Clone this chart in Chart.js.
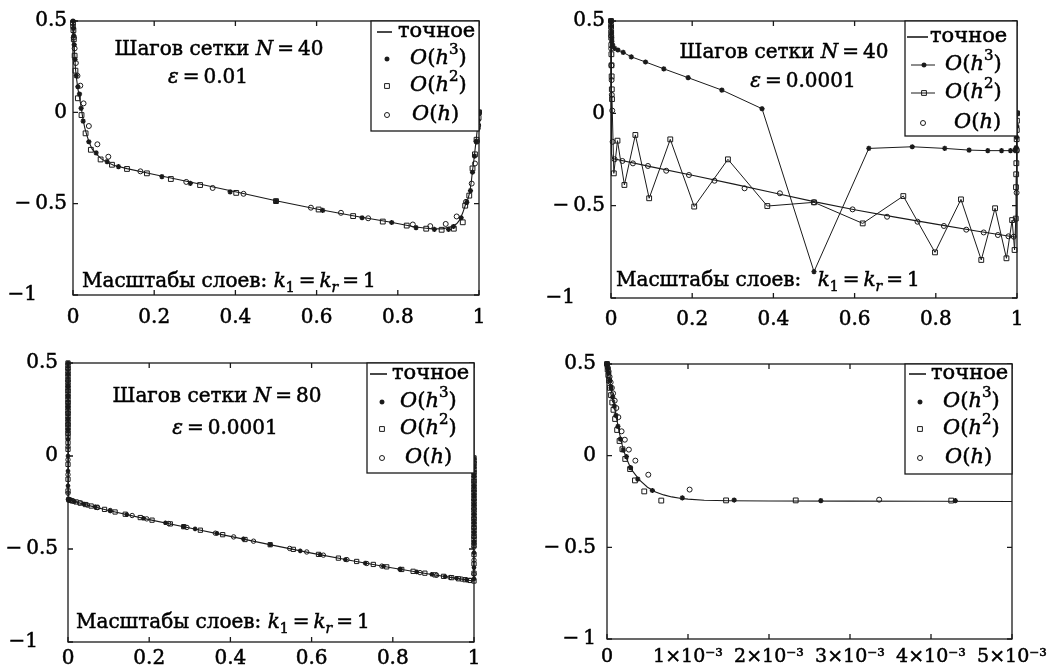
<!DOCTYPE html>
<html>
<head>
<meta charset="utf-8">
<script src="https://cdn.jsdelivr.net/npm/chart.js@4.4.1/dist/chart.umd.min.js"></script>
<style>
  html, body { margin: 0; padding: 0; background: #fff; }
  #wrap { position: relative; width: 1058px; height: 670px; overflow: hidden; }
  canvas { position: absolute; }
</style>
</head>
<body>
<div id="wrap">
  <canvas id="p1" width="529" height="335" style="left:0;top:0"></canvas>
  <canvas id="p2" width="529" height="335" style="left:529px;top:0"></canvas>
  <canvas id="p3" width="529" height="335" style="left:0;top:335px"></canvas>
  <canvas id="p4" width="529" height="335" style="left:529px;top:335px"></canvas>
</div>
<script>
// ============================================================
// Boundary-layer solutions: exact vs O(h^3), O(h^2), O(h) schemes
// four panels
// ============================================================

// ----- axis ticks -----
const yTicks = [-1, -0.5, 0, 0.5];
const yLabelsPad = ['−1\u2003\u2002', '−\u20090.5', '0', '0.5'];
const yLabelsPadC = ['−1\u2003', '−\u20090.5', '0', '0.5'];
const yLabelsD = ['−\u20091', '−\u20090.5', '0', '0.5'];
const xTicks = [0, 0.2, 0.4, 0.6, 0.8, 1];
const xLabels = ['0', '0.2', '0.4', '0.6', '0.8', '1'];
// panel 4 x values are in units of 1e-3
const xTicksD = [0, 1, 2, 3, 4, 5];
const xLabelsD = ['0', '1×10⁻³', '2×10⁻³', '3×10⁻³', '4×10⁻³', '5×10⁻³'];

// ----- panel 1: N = 40, eps = 0.01 -----
const exactA = [[0,0.5],[0.002,0.41],[0.004,0.32],[0.006,0.24],[0.009,0.18],[0.012,0.13],[0.016,0.08],
  [0.02,0.03],[0.024,-0.03],[0.029,-0.085],[0.034,-0.125],[0.04,-0.165],[0.047,-0.2],[0.057,-0.228],
  [0.07,-0.255],[0.085,-0.274],[0.1,-0.29],[0.133,-0.308],[0.2,-0.34],[0.3,-0.387],[0.4,-0.435],
  [0.5,-0.484],[0.6,-0.529],[0.7,-0.57],[0.78,-0.6],[0.84,-0.626],[0.88,-0.637],[0.91,-0.638],
  [0.93,-0.627],[0.945,-0.61],[0.952,-0.59],[0.96,-0.55],[0.966,-0.51],[0.972,-0.48],[0.977,-0.44],
  [0.981,-0.38],[0.984,-0.32],[0.988,-0.25],[0.992,-0.17],[0.995,-0.11],[0.998,-0.045],[1,0]];
const starsA = [[0,0.5],[0.001,0.46],[0.002,0.42],[0.003,0.37],[0.005,0.29],[0.008,0.2],[0.012,0.14],
  [0.016,0.1],[0.02,0.022],[0.025,-0.048],[0.039,-0.161],[0.057,-0.222],[0.084,-0.27],[0.112,-0.297],
  [0.219,-0.352],[0.289,-0.389],[0.387,-0.435],[0.5,-0.486],[0.615,-0.537],[0.712,-0.577],[0.785,-0.603],
  [0.845,-0.631],[0.89,-0.641],[0.925,-0.641],[0.937,-0.625],[0.956,-0.577],[0.97,-0.493],[0.979,-0.429],
  [0.984,-0.328],[0.989,-0.24],[0.993,-0.16],[0.996,-0.09],[0.998,-0.045],[1,0]];
const squaresA = [[0,0.49],[0.001,0.45],[0.002,0.4],[0.004,0.31],[0.006,0.228],[0.012,0.077],
  [0.021,-0.015],[0.031,-0.115],[0.044,-0.205],[0.068,-0.258],[0.096,-0.287],[0.133,-0.31],[0.182,-0.334],
  [0.241,-0.365],[0.313,-0.398],[0.402,-0.441],[0.5,-0.486],[0.605,-0.532],[0.69,-0.568],[0.763,-0.598],
  [0.822,-0.62],[0.87,-0.637],[0.908,-0.643],[0.938,-0.637],[0.96,-0.602],[0.966,-0.511],[0.976,-0.456],
  [0.984,-0.307],[0.99,-0.23],[0.994,-0.15],[0.997,-0.08],[0.999,-0.03],[1,0]];
const circlesA = [[0,0.47],[0.002,0.41],[0.004,0.35],[0.007,0.27],[0.011,0.2],[0.018,0.146],
  [0.026,0.049],[0.039,-0.075],[0.06,-0.175],[0.087,-0.243],[0.166,-0.323],[0.279,-0.381],[0.344,-0.414],
  [0.42,-0.446],[0.586,-0.522],[0.66,-0.55],[0.727,-0.58],[0.837,-0.614],[0.88,-0.623],[0.918,-0.611],
  [0.945,-0.57],[0.968,-0.49],[0.982,-0.39],[0.99,-0.28],[0.995,-0.16],[0.998,-0.07],[1,0]];

// ----- panel 2: N = 40, eps = 0.0001 -----
const exactB = [[0,0.5],[0.0004,0.25],[0.0008,0],[0.0012,-0.15],[0.002,-0.22],[0.004,-0.245],
  [0.1,-0.29],[0.2,-0.335],[0.3,-0.382],[0.4,-0.43],[0.5,-0.478],[0.6,-0.522],[0.7,-0.562],
  [0.8,-0.6],[0.9,-0.637],[0.99,-0.668],[0.997,-0.67],[0.9985,-0.55],[0.9992,-0.35],[0.9997,-0.15],[1,0]];
const starsB = [[0,0.5],[0.0005,0.47],[0.001,0.44],[0.0015,0.41],[0.002,0.39],[0.004,0.37],
  [0.009,0.352],[0.017,0.343],[0.03,0.33],[0.05,0.306],[0.085,0.278],[0.13,0.241],[0.19,0.193],
  [0.273,0.126],[0.372,0.025],[0.5,-0.857],[0.635,-0.19],[0.742,-0.181],[0.822,-0.19],[0.882,-0.199],
  [0.928,-0.202],[0.962,-0.202],[0.984,-0.202],[0.995,-0.199],[0.998,-0.185],[0.999,-0.13],
  [0.9995,-0.07],[1,0]];
const squaresB = [[0,0.5],[0.0002,0.47],[0.0004,0.44],[0.0006,0.41],[0.0008,0.37],[0.001,0.32],
  [0.0013,0.26],[0.0016,0.2],[0.002,0.13],[0.0025,0.077],[0.007,-0.325],[0.016,-0.148],[0.033,-0.388],
  [0.06,-0.117],[0.094,-0.46],[0.146,-0.141],[0.205,-0.505],[0.288,-0.249],[0.385,-0.502],[0.5,-0.482],
  [0.62,-0.596],[0.72,-0.448],[0.798,-0.753],[0.862,-0.466],[0.912,-0.794],[0.946,-0.514],[0.974,-0.785],
  [0.988,-0.578],[0.994,-0.74],[0.997,-0.57],[0.9975,-0.4],[0.998,-0.33],[0.9984,-0.27],[0.9988,-0.2],
  [0.9992,-0.14],[0.9995,-0.09],[0.9998,-0.04],[1,0]];
const circlesB = [[0,0.5],[0.0003,0.42],[0.0006,0.35],[0.001,0.26],[0.0015,0.18],[0.002,0.1],
  [0.003,0.015],[0.004,-0.154],[0.009,-0.249],[0.028,-0.258],[0.054,-0.271],[0.091,-0.285],
  [0.136,-0.311],[0.192,-0.334],[0.255,-0.365],[0.329,-0.406],[0.416,-0.433],[0.5,-0.482],
  [0.595,-0.52],[0.68,-0.56],[0.755,-0.587],[0.82,-0.61],[0.875,-0.63],[0.918,-0.645],[0.953,-0.659],
  [0.979,-0.666],[0.992,-0.668],[0.999,-0.43],[0.9995,-0.2],[1,0]];

// ----- panel 3: N = 80, eps = 0.0001 -----
const exactC = [[0,0.5],[0.0003,0.2],[0.0008,-0.1],[0.0015,-0.2],[0.003,-0.235],[0.04,-0.26],
  [0.1,-0.293],[0.2,-0.342],[0.3,-0.387],[0.4,-0.432],[0.5,-0.478],[0.6,-0.522],[0.7,-0.563],
  [0.8,-0.602],[0.9,-0.638],[0.97,-0.662],[0.998,-0.672],[0.9993,-0.4],[0.9998,-0.15],[1,-0.01]];
// boundary-layer columns (x = 0 and x = 1)
const squaresCLeft = [0.5,0.487,0.472,0.456,0.441,0.427,0.41,0.396,0.38,0.366,0.35,0.333,0.319,0.304,
  0.288,0.273,0.259,0.243,0.229,0.214,0.198,0.183,0.168,0.154,0.138,0.122,0.1,0.072,0.036,-0.045,-0.125,-0.188];
const starsCLeft = [0.5,0.44,0.375,0.32,0.262,0.2,0.142,0.09,0,-0.081,-0.16,-0.233];
const circlesCLeft = [0.47,0.405,0.35,0.29,0.232,0.17,0.118,0.05,-0.02,-0.1,-0.2];
const squaresCRight = [-0.01,-0.026,-0.04,-0.056,-0.072,-0.088,-0.103,-0.118,-0.135,-0.15,-0.166,-0.181,
  -0.197,-0.212,-0.228,-0.244,-0.259,-0.275,-0.29,-0.306,-0.322,-0.338,-0.353,-0.368,-0.385,-0.4,-0.416,
  -0.432,-0.448,-0.465,-0.48,-0.53,-0.58,-0.63,-0.672];
const starsCRight = [-0.012,-0.06,-0.11,-0.162,-0.21,-0.26,-0.312,-0.36,-0.41,-0.462,-0.52,-0.6,-0.66];
const circlesCRight = [-0.035,-0.085,-0.135,-0.186,-0.235,-0.285,-0.336,-0.385,-0.435,-0.49,-0.56,-0.635];
// outer region
const squaresC = [[0.002,-0.235],[0.005,-0.238],[0.01,-0.241],[0.02,-0.247],[0.03,-0.253],[0.043,-0.261],
  [0.057,-0.269],[0.071,-0.276],[0.09,-0.287],[0.116,-0.301],[0.141,-0.313],[0.178,-0.331],[0.207,-0.345],
  [0.252,-0.365],[0.285,-0.38],[0.326,-0.399],[0.381,-0.423],[0.436,-0.449],[0.498,-0.477],[0.555,-0.502],
  [0.617,-0.529],[0.666,-0.549],[0.711,-0.567],[0.752,-0.583],[0.785,-0.596],[0.822,-0.61],[0.85,-0.62],
  [0.879,-0.63],[0.904,-0.639],[0.925,-0.647],[0.945,-0.654],[0.962,-0.66],[0.978,-0.665],[0.99,-0.669]];
const starsC = [[0.004,-0.236],[0.016,-0.245],[0.039,-0.258],[0.067,-0.273],[0.104,-0.295],[0.145,-0.315],
  [0.186,-0.335],[0.24,-0.359],[0.285,-0.38],[0.313,-0.392],[0.367,-0.416],[0.432,-0.445],[0.498,-0.477],
  [0.572,-0.51],[0.621,-0.531],[0.683,-0.557],[0.732,-0.576],[0.777,-0.593],[0.818,-0.609],[0.859,-0.623],
  [0.896,-0.636],[0.929,-0.648],[0.957,-0.657],[0.982,-0.666]];
const circlesC = [[0.007,-0.239],[0.012,-0.243],[0.029,-0.252],[0.048,-0.264],[0.073,-0.277],[0.104,-0.293],
  [0.158,-0.32],[0.194,-0.338],[0.248,-0.363],[0.293,-0.384],[0.363,-0.415],[0.408,-0.435],[0.457,-0.458],
  [0.546,-0.497],[0.588,-0.516],[0.629,-0.533],[0.687,-0.557],[0.736,-0.578],[0.773,-0.592],[0.818,-0.609],
  [0.867,-0.627],[0.908,-0.641],[0.941,-0.653],[0.97,-0.662],[0.99,-0.669]];

// ----- panel 4: zoom of the left layer, x in 1e-3 -----
const exactD = [[0,0.5],[0.03,0.42],[0.06,0.345],[0.1,0.245],[0.15,0.13],[0.2,0.035],[0.25,-0.025],
  [0.3,-0.075],[0.4,-0.132],[0.5,-0.172],[0.6,-0.198],[0.7,-0.214],[0.8,-0.225],[0.9,-0.232],[1,-0.237],
  [1.2,-0.243],[1.5,-0.246],[2,-0.247],[3,-0.248],[4,-0.249],[5,-0.25]];
const starsD = [[0,0.5],[0.01,0.475],[0.02,0.45],[0.035,0.41],[0.05,0.37],[0.07,0.32],[0.09,0.27],
  [0.11,0.22],[0.135,0.16],[0.165,0.09],[0.2,0.03],[0.24,-0.005],[0.29,-0.065],[0.38,-0.128],
  [0.56,-0.19],[0.93,-0.23],[1.57,-0.242],[2.64,-0.245],[4.3,-0.245]];
const squaresD = [[0,0.5],[0.008,0.47],[0.016,0.44],[0.026,0.41],[0.037,0.37],[0.05,0.33],[0.065,0.29],
  [0.08,0.25],[0.1,0.2],[0.125,0.14],[0.155,0.08],[0.19,0.035],[0.225,-0.018],[0.285,-0.073],
  [0.345,-0.135],[0.46,-0.195],[0.67,-0.245],[1.47,-0.244],[2.33,-0.244],[4.25,-0.245]];
const circlesD = [[0,0.5],[0.01,0.48],[0.02,0.46],[0.032,0.43],[0.045,0.4],[0.06,0.37],[0.075,0.34],
  [0.095,0.3],[0.115,0.26],[0.14,0.21],[0.18,0.133],[0.22,0.087],[0.27,0.033],[0.35,-0.027],
  [0.51,-0.104],[1.02,-0.185],[3.36,-0.24]];

// ============================================================
const INK = '#1a1a1a';
const FONT = "'DejaVu Serif', serif";
const HEAVY = 0.5;   // thin outline on text to mimic the heavier print

const pts = arr => arr.map(([x, y]) => ({ x, y }));
const column = (x, ys) => ys.map(y => ({ x, y }));

function exactSet(data) {
  return { data, showLine: true, borderColor: INK, borderWidth: 1.1, pointRadius: 0,
    tension: 0, clip: false };
}
function markSet(data, style, r, line) {
  return { data, showLine: !!line, borderColor: INK, borderWidth: 1, tension: 0,
    pointStyle: style, pointRadius: r, pointBorderWidth: style === 'star' ? 1.4 : 1, pointBorderColor: INK,
    pointBackgroundColor: 'rgba(255,255,255,0)', backgroundColor: 'rgba(255,255,255,0)', clip: false };
}

// rich text: parts are [text, style] with style '', 'i', 'sub', 'isub', 'sup'
function partFont(st, size) {
  const small = st === 'sub' || st === 'isub' || st === 'sup';
  const ital = st === 'i' || st === 'isub';
  return (ital ? 'italic ' : '') + Math.round(small ? size * 0.7 : size) + 'px ' + FONT;
}
function richWidth(ctx, parts, size) {
  let w = 0;
  for (const [t, st] of parts) { ctx.font = partFont(st, size); w += ctx.measureText(t).width; }
  return w;
}
function drawRich(ctx, parts, x, y, size, align) {
  let cx = align === 'center' ? x - richWidth(ctx, parts, size) / 2 : x;
  ctx.strokeStyle = '#000';
  ctx.lineWidth = HEAVY;
  for (const [t, st] of parts) {
    ctx.font = partFont(st, size);
    const dy = (st === 'sub' || st === 'isub') ? size * 0.25 : st === 'sup' ? -size * 0.42 : 0;
    ctx.fillText(t, cx, y + dy);
    ctx.strokeText(t, cx, y + dy);
    cx += ctx.measureText(t).width;
  }
}
function drawMark(ctx, kind, x, y, r) {
  ctx.beginPath();
  if (kind === 'circle') ctx.arc(x, y, r, 0, Math.PI * 2);
  else if (kind === 'rect') { const s = r * Math.SQRT1_2; ctx.rect(x - s, y - s, 2 * s, 2 * s); }
  else {
    for (let k = 0; k < 4; k++) {
      const a = k * Math.PI / 4;
      ctx.moveTo(x + Math.cos(a) * r, y + Math.sin(a) * r);
      ctx.lineTo(x - Math.cos(a) * r, y - Math.sin(a) * r);
    }
  }
  ctx.stroke();
}

const txtN = n => [['Шагов сетки ', ''], ['N', 'i'], ['\u2009=\u2009' + n, '']];
const txtEps = e => [['ε', 'i'], ['\u2009=\u2009' + e, '']];
const txtK = gap => [['Масштабы слоев:' + gap, ''], ['k', 'i'], ['1', 'sub'], ['\u2009=\u2009', ''],
  ['k', 'i'], ['r', 'isub'], ['\u2009=\u20091', '']];
const keyO = p => p ? [['O', 'i'], ['(', ''], ['h', 'i'], [p, 'sup'], [')', '']] : [['O', 'i'], ['(', ''], ['h', 'i'], [')', '']];

const PANELS = {
  p1: {
    datasets: [exactSet(pts(exactA)), markSet(pts(starsA), 'star', 2.6),
      markSet(pts(squaresA), 'rect', 3.4), markSet(pts(circlesA), 'circle', 2.5)],
    xMin: 0, xMax: 1, xT: xTicks, xL: xLabels, yL: yLabelsPad, xFont: null,
    yWidth: 73, xHeight: 40, top: 21, right: 50, xPad: 11, yPad: 6,
    notes: [
      { x: 219, y: 55, align: 'center', size: 20, parts: txtN('40') },
      { x: 208, y: 83, align: 'center', size: 20, parts: txtEps('0.01') },
      { x: 82, y: 287, align: 'left', size: 20, parts: txtK(' ') }
    ],
    key: { left: 371, bottom: 131, size: 21, rows: [
      { y: 32, kind: 'line', l0: 377, l1: 392, tx: 398, label: [['точное', '']] },
      { y: 59, kind: 'star', mx: 387, tx: 410, label: keyO('3') },
      { y: 86, kind: 'rect', mx: 387, tx: 410, label: keyO('2') },
      { y: 115, kind: 'circle', mx: 387, tx: 412, label: keyO('') }
    ] }
  },
  p2: {
    datasets: [exactSet(pts(exactB)), markSet(pts(starsB), 'star', 2.6, true),
      markSet(pts(squaresB), 'rect', 3.4, true), markSet(pts(circlesB), 'circle', 2.5)],
    xMin: 0, xMax: 1, xT: xTicks, xL: xLabels, yL: yLabelsPad, xFont: null,
    yWidth: 82, xHeight: 37, top: 21, right: 41, xPad: 10, yPad: 6,
    notes: [
      { x: 255, y: 58, align: 'center', size: 20, parts: txtN('40') },
      { x: 274, y: 87, align: 'center', size: 20, parts: txtEps('0.0001') },
      { x: 87, y: 286, align: 'left', size: 20, parts: txtK(' \u2002') }
    ],
    key: { left: 376, bottom: 136, size: 21, rows: [
      { y: 37, kind: 'line', l0: 378, l1: 399, tx: 401, label: [['точное', '']] },
      { y: 65, kind: 'star', l0: 382, l1: 406, mx: 395, tx: 416, label: keyO('3') },
      { y: 93, kind: 'rect', l0: 382, l1: 406, mx: 395, tx: 416, label: keyO('2') },
      { y: 123, kind: 'circle', mx: 394, tx: 425, label: keyO('') }
    ] }
  },
  p3: {
    datasets: [exactSet(pts(exactC)),
      markSet(column(0, starsCLeft).concat(pts(starsC), column(1, starsCRight)), 'star', 2.3),
      markSet(column(0, squaresCLeft).concat(pts(squaresC), column(1, squaresCRight)), 'rect', 3),
      markSet(column(0, circlesCLeft).concat(pts(circlesC), column(1, circlesCRight)), 'circle', 2.2)],
    xMin: 0, xMax: 1, xT: xTicks, xL: xLabels, yL: yLabelsPadC, xFont: null,
    yWidth: 68, xHeight: 28, top: 28, right: 55, xPad: 5, yPad: 10,
    notes: [
      { x: 217, y: 67, align: 'center', size: 20, parts: txtN('80') },
      { x: 225, y: 99, align: 'center', size: 20, parts: txtEps('0.0001') },
      { x: 76, y: 293, align: 'left', size: 20, parts: txtK(' ') }
    ],
    key: { left: 367, bottom: 138, size: 21, rows: [
      { y: 39, kind: 'line', l0: 370, l1: 387, tx: 392, label: [['точное', '']] },
      { y: 67, kind: 'star', mx: 382, tx: 400, label: keyO('3') },
      { y: 94, kind: 'rect', mx: 382, tx: 400, label: keyO('2') },
      { y: 123, kind: 'circle', mx: 382, tx: 405, label: keyO('') }
    ] }
  },
  p4: {
    datasets: [exactSet(pts(exactD)), markSet(pts(starsD), 'star', 2.6),
      markSet(pts(squaresD), 'rect', 3.4), markSet(pts(circlesD), 'circle', 2.5)],
    xMin: 0, xMax: 5, xT: xTicksD, xL: xLabelsD, yL: yLabelsD,
    xFont: { family: FONT, size: 19 },
    yWidth: 78, xHeight: 31, top: 29, right: 46, xPad: 7, yPad: 11,
    notes: [],
    key: { left: 376, bottom: 139, size: 21, rows: [
      { y: 39, kind: 'line', l0: 380, l1: 397, tx: 402, label: [['точное', '']] },
      { y: 67, kind: 'star', mx: 391, tx: 414, label: keyO('3') },
      { y: 94, kind: 'rect', mx: 391, tx: 414, label: keyO('2') },
      { y: 123, kind: 'circle', mx: 391, tx: 416, label: keyO('') }
    ] }
  }
};

// box with inward ticks on all four sides
const framePlugin = {
  id: 'frame',
  afterDraw(chart) {
    const { ctx, chartArea: a, scales: { x, y } } = chart;
    ctx.save();
    ctx.strokeStyle = INK;
    ctx.lineWidth = 1.3;
    ctx.strokeRect(a.left, a.top, a.right - a.left, a.bottom - a.top);
    ctx.beginPath();
    x.ticks.forEach(t => {
      const px = x.getPixelForValue(t.value);
      ctx.moveTo(px, a.bottom); ctx.lineTo(px, a.bottom - 5);
      ctx.moveTo(px, a.top); ctx.lineTo(px, a.top + 5);
    });
    y.ticks.forEach(t => {
      const py = y.getPixelForValue(t.value);
      ctx.moveTo(a.left, py); ctx.lineTo(a.left + 5, py);
      ctx.moveTo(a.right, py); ctx.lineTo(a.right - 5, py);
    });
    ctx.stroke();
    ctx.restore();
  }
};

const notesPlugin = {
  id: 'notes',
  afterDraw(chart) {
    const P = PANELS[chart.canvas.id];
    const ctx = chart.ctx;
    ctx.save();
    ctx.fillStyle = '#000';
    ctx.textBaseline = 'alphabetic';
    ctx.textAlign = 'left';
    P.notes.forEach(n => drawRich(ctx, n.parts, n.x, n.y, n.size, n.align));
    ctx.restore();
  }
};

const keyPlugin = {
  id: 'keybox',
  afterDraw(chart) {
    const K = PANELS[chart.canvas.id].key;
    const { ctx, chartArea: a } = chart;
    ctx.save();
    ctx.fillStyle = '#fff';
    ctx.fillRect(K.left, a.top, a.right - K.left, K.bottom - a.top);
    ctx.strokeStyle = INK;
    ctx.lineWidth = 1.3;
    ctx.strokeRect(K.left, a.top, a.right - K.left, K.bottom - a.top);
    ctx.fillStyle = '#000';
    ctx.textBaseline = 'middle';
    ctx.textAlign = 'left';
    K.rows.forEach(r => {
      ctx.strokeStyle = INK;
      if (r.l0 !== undefined) {
        ctx.beginPath();
        ctx.moveTo(r.l0, r.y); ctx.lineTo(r.l1, r.y);
        ctx.lineWidth = r.kind === 'line' ? 1.6 : 1;
        ctx.stroke();
      }
      ctx.lineWidth = r.kind === 'star' ? 1.4 : 1;
      if (r.kind !== 'line') drawMark(ctx, r.kind, r.mx, r.y, r.kind === 'rect' ? 3.4 : 2.5);
      drawRich(ctx, r.label, r.tx, r.y, K.size, 'left');
    });
    ctx.restore();
  }
};

function build(id) {
  const P = PANELS[id];
  const tickFont = { family: FONT, size: 20 };
  new Chart(document.getElementById(id), {
    type: 'scatter',
    data: { datasets: P.datasets },
    options: {
      responsive: false,
      animation: false,
      events: [],
      layout: { padding: { left: 0, top: P.top, right: P.right, bottom: 0 } },
      plugins: { legend: { display: false }, tooltip: { enabled: false } },
      scales: {
        x: {
          type: 'linear', min: P.xMin, max: P.xMax,
          grid: { display: false, drawTicks: false }, border: { display: false },
          afterBuildTicks: s => { s.ticks = P.xT.map(v => ({ value: v })); },
          afterFit: s => { s.height = P.xHeight; },
          ticks: { autoSkip: false, maxRotation: 0, padding: P.xPad, color: '#000', font: P.xFont || tickFont,
            textStrokeColor: '#000', textStrokeWidth: HEAVY, callback: (v, i) => P.xL[i] }
        },
        y: {
          type: 'linear', min: -1, max: 0.5,
          grid: { display: false, drawTicks: false }, border: { display: false },
          afterBuildTicks: s => { s.ticks = yTicks.map(v => ({ value: v })); },
          afterFit: s => { s.width = P.yWidth; },
          ticks: { autoSkip: false, padding: P.yPad, color: '#000', font: tickFont,
            textStrokeColor: '#000', textStrokeWidth: HEAVY, callback: (v, i) => P.yL[i] }
        }
      }
    },
    plugins: [framePlugin, notesPlugin, keyPlugin]
  });
}

['p1', 'p2', 'p3', 'p4'].forEach(build);
</script>
</body>
</html>
